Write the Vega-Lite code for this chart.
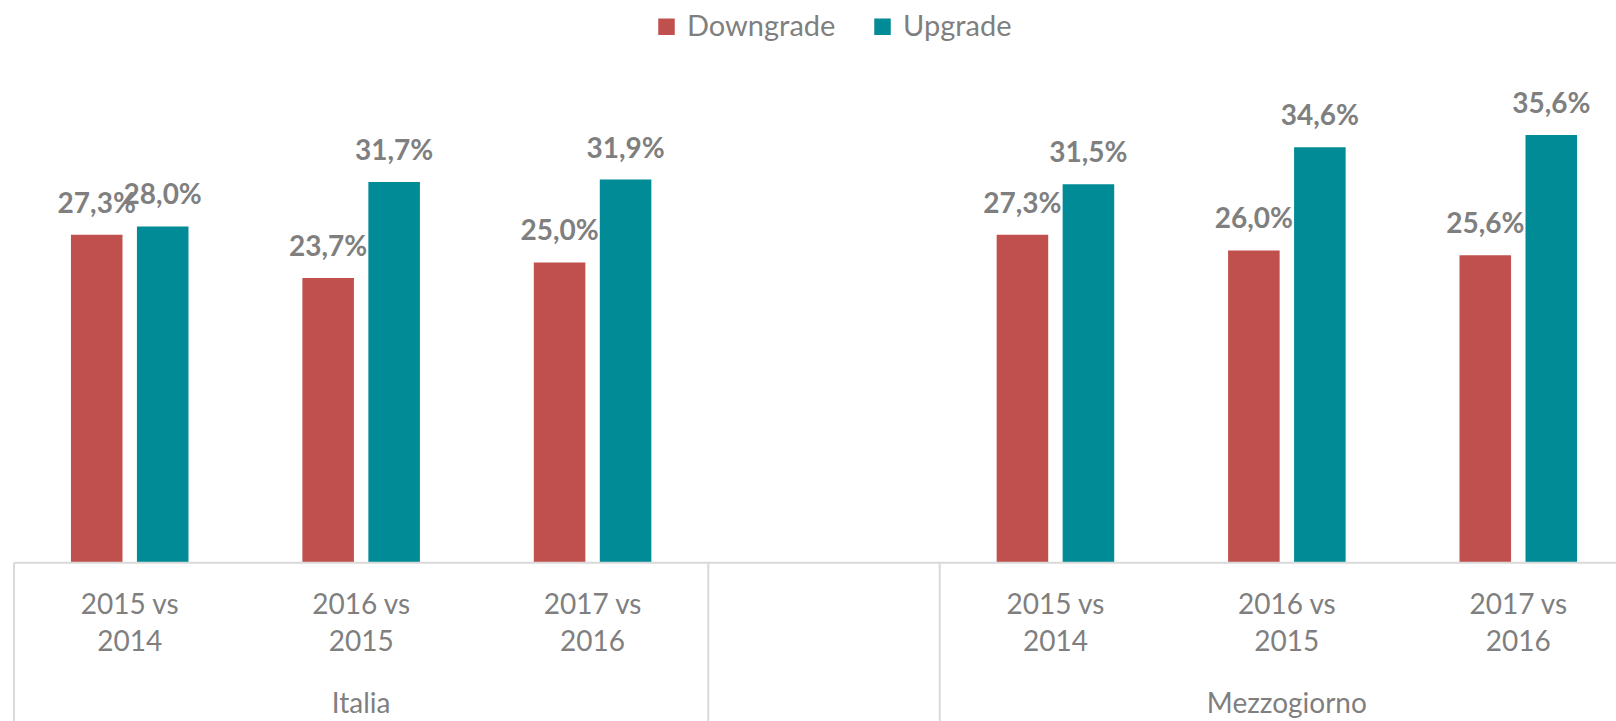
{
  "$schema": "https://vega.github.io/schema/vega-lite/v6.json",
  "width": 1602,
  "height": 721,
  "autosize": {"type": "none"},
  "padding": {"left": 14, "top": 0, "right": 0, "bottom": 0},
  "background": "white",
  "config": {
    "view": {"stroke": null},
    "font": "Lato",
    "locale": {"number": {"decimal": ",", "thousands": ".", "grouping": [3], "currency": ["€", ""]}}
  },
  "datasets": {
    "bars": [
      {"cat": "Italia · 2015 vs 2014", "series": "Downgrade", "value": 0.273},
      {"cat": "Italia · 2015 vs 2014", "series": "Upgrade", "value": 0.280},
      {"cat": "Italia · 2016 vs 2015", "series": "Downgrade", "value": 0.237},
      {"cat": "Italia · 2016 vs 2015", "series": "Upgrade", "value": 0.317},
      {"cat": "Italia · 2017 vs 2016", "series": "Downgrade", "value": 0.250},
      {"cat": "Italia · 2017 vs 2016", "series": "Upgrade", "value": 0.319},
      {"cat": "Mezzogiorno · 2015 vs 2014", "series": "Downgrade", "value": 0.273},
      {"cat": "Mezzogiorno · 2015 vs 2014", "series": "Upgrade", "value": 0.315},
      {"cat": "Mezzogiorno · 2016 vs 2015", "series": "Downgrade", "value": 0.260},
      {"cat": "Mezzogiorno · 2016 vs 2015", "series": "Upgrade", "value": 0.346},
      {"cat": "Mezzogiorno · 2017 vs 2016", "series": "Downgrade", "value": 0.256},
      {"cat": "Mezzogiorno · 2017 vs 2016", "series": "Upgrade", "value": 0.356}
    ],
    "ticks": [
      {"cat": "Italia · 2015 vs 2014", "line1": "2015 vs", "line2": "2014"},
      {"cat": "Italia · 2016 vs 2015", "line1": "2016 vs", "line2": "2015"},
      {"cat": "Italia · 2017 vs 2016", "line1": "2017 vs", "line2": "2016"},
      {"cat": "Mezzogiorno · 2015 vs 2014", "line1": "2015 vs", "line2": "2014"},
      {"cat": "Mezzogiorno · 2016 vs 2015", "line1": "2016 vs", "line2": "2015"},
      {"cat": "Mezzogiorno · 2017 vs 2016", "line1": "2017 vs", "line2": "2016"}
    ],
    "groups": [
      {"cat": "Italia · 2016 vs 2015", "label": "Italia"},
      {"cat": "Mezzogiorno · 2016 vs 2015", "label": "Mezzogiorno"}
    ],
    "separators": [
      {"cat": "Italia · 2015 vs 2014"},
      {"cat": "gap"},
      {"cat": "Mezzogiorno · 2015 vs 2014"}
    ],
    "baseline": [{"value": 0}]
  },
  "layer": [
    {
      "data": {"name": "bars"},
      "mark": {"type": "bar"},
      "encoding": {
        "x": {
          "field": "cat", "type": "nominal", "axis": null,
          "scale": {
            "domain": ["Italia · 2015 vs 2014", "Italia · 2016 vs 2015", "Italia · 2017 vs 2016", "gap", "Mezzogiorno · 2015 vs 2014", "Mezzogiorno · 2016 vs 2015", "Mezzogiorno · 2017 vs 2016"],
            "range": [0, 1620],
            "paddingInner": 0,
            "paddingOuter": 0
          }
        },
        "xOffset": {
          "field": "series", "type": "nominal",
          "scale": {"domain": ["Downgrade", "Upgrade"], "paddingInner": 0.21875, "paddingOuter": 0.863}
        },
        "y": {
          "field": "value", "type": "quantitative", "axis": null,
          "scale": {"domain": [-0.1318, 0.4685], "nice": false, "zero": false}
        },
        "color": {
          "field": "series", "type": "nominal",
          "scale": {"domain": ["Downgrade", "Upgrade"], "range": ["#c0504d", "#008b96"]},
          "legend": {
            "title": null,
            "orient": "none",
            "legendX": 638,
            "legendY": 12,
            "direction": "horizontal",
            "symbolType": "square",
            "symbolSize": 272,
            "symbolStrokeWidth": 0,
            "labelFontSize": 29,
            "labelFont": "Lato",
            "labelColor": "#7f7f7f",
            "labelOffset": 6,
            "columnPadding": 32
          }
        }
      }
    },
    {
      "data": {"name": "bars"},
      "mark": {"type": "text", "dy": -30, "baseline": "middle", "align": "center", "fontWeight": "bold", "fontSize": 28, "color": "#7f7f7f", "font": "Lato"},
      "encoding": {
        "x": {"field": "cat", "type": "nominal"},
        "xOffset": {"field": "series", "type": "nominal"},
        "y": {"field": "value", "type": "quantitative"},
        "text": {"field": "value", "type": "quantitative", "format": ".1%"}
      }
    },
    {
      "data": {"name": "baseline"},
      "mark": {"type": "rule", "color": "#d9d9d9", "strokeWidth": 2},
      "encoding": {
        "y": {"field": "value", "type": "quantitative"}
      }
    },
    {
      "data": {"name": "separators"},
      "mark": {"type": "rule", "color": "#d9d9d9", "strokeWidth": 2},
      "encoding": {
        "x": {"field": "cat", "type": "nominal", "bandPosition": 0},
        "y": {"datum": 0, "type": "quantitative"},
        "y2": {"datum": -0.14}
      }
    },
    {
      "data": {"name": "ticks"},
      "mark": {"type": "text", "baseline": "middle", "align": "center", "fontSize": 28, "color": "#7f7f7f", "font": "Lato"},
      "encoding": {
        "x": {"field": "cat", "type": "nominal"},
        "y": {"datum": -0.0361, "type": "quantitative"},
        "text": {"field": "line1"}
      }
    },
    {
      "data": {"name": "ticks"},
      "mark": {"type": "text", "baseline": "middle", "align": "center", "fontSize": 28, "color": "#7f7f7f", "font": "Lato"},
      "encoding": {
        "x": {"field": "cat", "type": "nominal"},
        "y": {"datum": -0.0669, "type": "quantitative"},
        "text": {"field": "line2"}
      }
    },
    {
      "data": {"name": "groups"},
      "mark": {"type": "text", "baseline": "middle", "align": "center", "fontSize": 28, "color": "#7f7f7f", "font": "Lato"},
      "encoding": {
        "x": {"field": "cat", "type": "nominal"},
        "y": {"datum": -0.1185, "type": "quantitative"},
        "text": {"field": "label"}
      }
    }
  ]
}
